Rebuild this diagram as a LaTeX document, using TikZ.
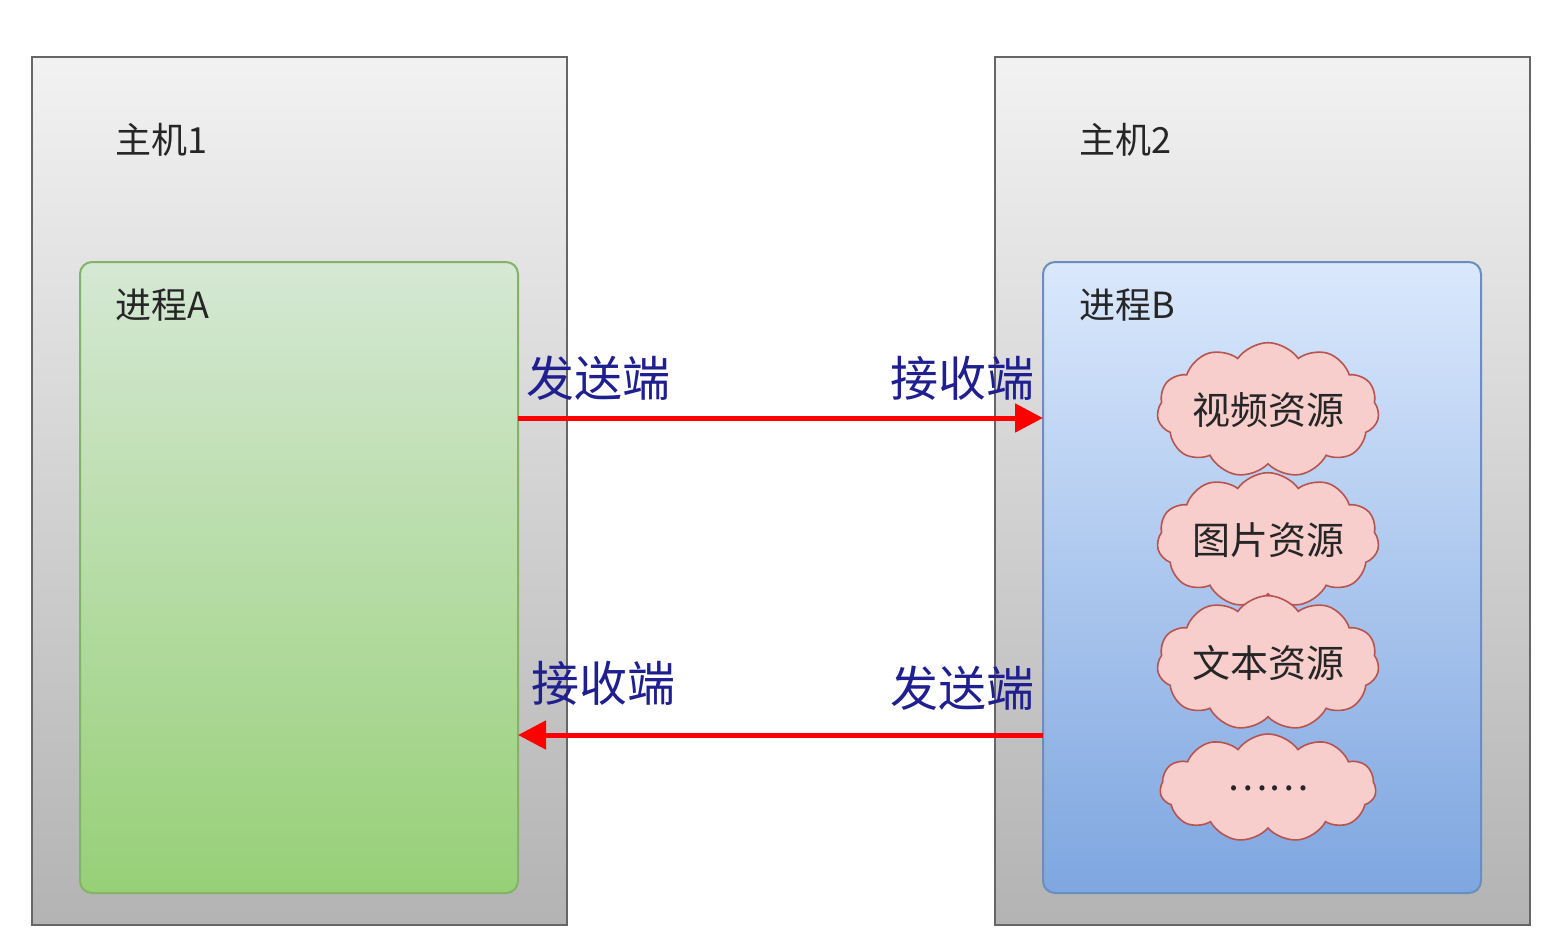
\documentclass[tikz,border=0pt]{standalone}
\usepackage{fontspec}
\setmainfont{Noto Sans CJK SC}
\usetikzlibrary{shapes.symbols,arrows.meta}
\definecolor{hostT}{HTML}{F2F2F2}\definecolor{hostB}{HTML}{B3B3B3}
\definecolor{grT}{HTML}{D5E8D4}\definecolor{grB}{HTML}{97D077}\definecolor{grD}{HTML}{82B366}
\definecolor{blT}{HTML}{DAE8FC}\definecolor{blB}{HTML}{7EA6E0}\definecolor{blD}{HTML}{6C8EBF}
\definecolor{clF}{HTML}{F8CECC}\definecolor{clD}{HTML}{B85450}
\definecolor{lbl}{HTML}{1F1F8F}
\tikzset{
 host/.style={draw=black!60,line width=1pt,top color=hostT,bottom color=hostB},
 procA/.style={draw=grD,line width=1pt,rounded corners=6pt,top color=grT,bottom color=grB},
 procB/.style={draw=blD,line width=1pt,rounded corners=6pt,top color=blT,bottom color=blB},
 res/.style={cloud,cloud puffs=11,cloud puff arc=110,aspect=2,draw=clD,fill=clF,line width=0.8pt,minimum width=108pt,minimum height=54pt,inner sep=0pt,font=\fontsize{19}{19}\selectfont,text=black!85},
 ttl/.style={font=\fontsize{18}{18}\selectfont,text=black!85,anchor=west},
 side/.style={font=\fontsize{24}{24}\selectfont,text=lbl},
 msg/.style={red,line width=2.5pt,-{Triangle[length=14pt,width=14pt]}}
}
\begin{document}
\begin{tikzpicture}[x=0.5pt,y=-0.5pt]
\useasboundingbox (0,0) rectangle (1555,950);
\node[host,minimum width=267.5pt,minimum height=434pt,inner sep=0pt] (h1) at (299.5,491) {};
\node[host,minimum width=267.5pt,minimum height=434pt,inner sep=0pt] (h2) at (1262.5,491) {};
\node[ttl] (t1) at (108,140) {主机1};
\node[ttl] (t2) at (1072,140) {主机2};
\node[procA,minimum width=219pt,minimum height=315.5pt,inner sep=0pt] (pa) at (299,577.5) {};
\node[procB,minimum width=219pt,minimum height=315.5pt,inner sep=0pt] (pb) at (1262,577.5) {};
\node[ttl] (ta) at (108,305) {进程A};
\node[ttl] (tb) at (1072,305) {进程B};
\node[res] (c1) at (1268,410) {视频资源};
\node[res] (c2) at (1268,540) {图片资源};
\node[res] (c3) at (1268,663) {文本资源};
\node[res] (c4) at (1268,788) {……};
\coordinate (a1) at (518,418); \coordinate (b1) at (1043,418);
\coordinate (a2) at (518,735); \coordinate (b2) at (1043,735);
\draw[msg] (a1) -- (b1);
\draw[msg] (b2) -- (a2);
\node[side] (s1) at (598,378) {发送端};
\node[side] (r1) at (962,378) {接收端};
\node[side] (r2) at (603,683) {接收端};
\node[side] (s2) at (962,688) {发送端};
\end{tikzpicture}
\end{document}
